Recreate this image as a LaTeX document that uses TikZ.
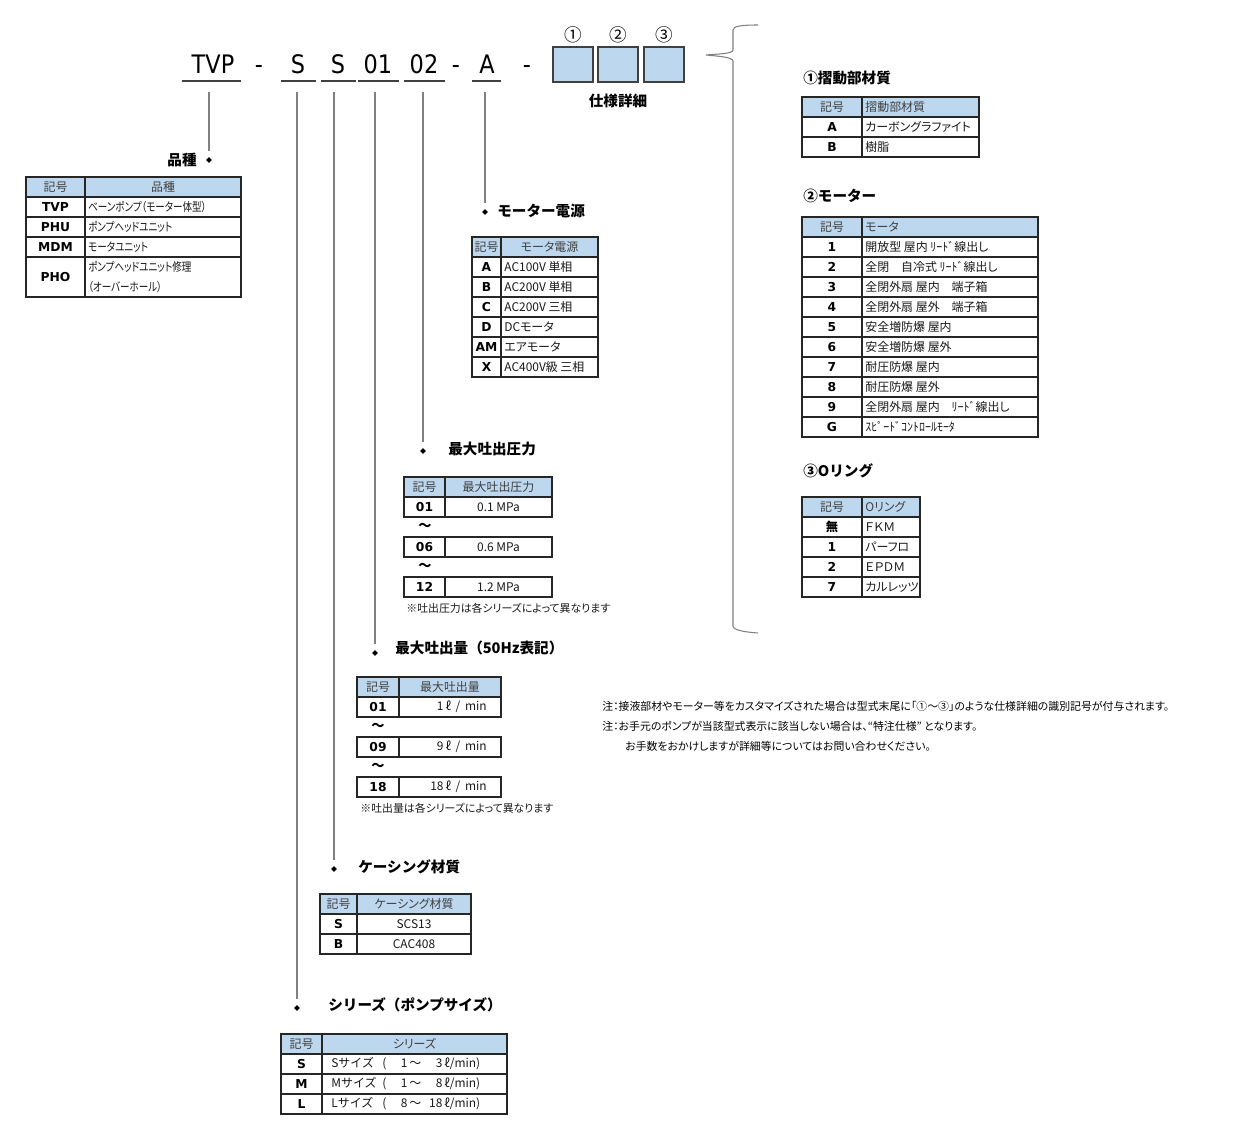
\documentclass[tikz,border=0pt]{standalone}
\usepackage{fontspec}
\setmainfont{Noto Sans CJK JP}
\newfontfamily\jpprop{Noto Sans CJK JP}[RawFeature=+palt]
\newfontfamily\latinfont{DejaVu Sans}
\usetikzlibrary{shapes.geometric}

\definecolor{hdrblue}{HTML}{BDD7EE}
\definecolor{tblline}{HTML}{262626}
\definecolor{hdrgray}{HTML}{404040}
\definecolor{leadgray}{HTML}{808080}
\definecolor{boxline}{HTML}{404040}

\newcommand\fcode{\latinfont\bfseries\fontsize{7}{8}\selectfont}
\newcommand\fdesc{\jpprop\fontsize{6.8}{8}\selectfont}
\newcommand\fwide{\normalfont\fontsize{6.8}{8}\selectfont}
\newcommand\fhead{\bfseries\fontsize{8.3}{10}\selectfont}
\newcommand\fnote{\jpprop\fontsize{6.2}{7}\selectfont}
\newcommand\ftop{\latinfont\fontsize{14.5}{16}\selectfont}
\newcommand\fcirc{\fontsize{10}{12}\selectfont}
\newcommand\jpbold{\jpprop\bfseries}

% header row: name, left, divider, right, top, title, anchor, x
\newcommand{\spechead}[8]{%
  \filldraw[hdrcell] (#2,#5) rectangle (#3,#5+20);
  \filldraw[hdrcell] (#3,#5) rectangle (#4,#5+20);
  \node[hdrtxt] (#1-k) at ({(#2+#3)/2},#5+10) {記号};
  \node[hdrtxt, anchor=#7] (#1-t) at (#8,#5+10) {#6};
}
% table row: name, left, divider, right, top, code, text, anchor, x
\newcommand{\specrow}[9]{%
  \draw[cellline] (#2,#5) rectangle (#3,#5+20);
  \draw[cellline] (#3,#5) rectangle (#4,#5+20);
  \node[codetxt] (#1-c) at ({(#2+#3)/2},#5+10) {#6};
  \node[desctxt, anchor=#8] (#1-d) at (#9,#5+10) {#7};
}
\newcommand{\sizerow}[3]{\fwide\makebox[29pt][l]{#1サイズ}(\makebox[12pt][r]{#2}\,～\makebox[12pt][r]{#3}\,ℓ/min)}

\begin{document}
\begin{tikzpicture}[x=0.02cm, y=-0.02cm,
  cellline/.style={draw=tblline, line width=0.9pt},
  hdrcell/.style={fill=hdrblue, draw=tblline, line width=0.9pt},
  codetxt/.style={font=\fcode, text=black, inner sep=0pt},
  desctxt/.style={font=\fdesc, text=black!90, inner sep=0pt},
  hdrtxt/.style={font=\fdesc, text=hdrgray, inner sep=0pt},
  sectitle/.style={font=\fhead, inner sep=0pt},
  notetxt/.style={font=\fnote, anchor=west, inner sep=0pt},
  topcode/.style={font=\ftop, anchor=base, inner sep=0pt, xscale=0.88, transform shape},
  uline/.style={draw=boxline, line width=0.8pt},
  specbox/.style={fill=hdrblue, draw=boxline, line width=0.9pt},
  lead/.style={draw=leadgray, line width=0.6pt, shorten >=3pt},
  dot/.style={diamond, fill=black, inner sep=0pt, minimum size=3.4pt},
  wave/.style={font=\bfseries\fontsize{7.5}{8}\selectfont, inner sep=0pt},
  narrow/.style={xscale=0.8, transform shape},
  brace/.style={draw=leadgray, line width=0.6pt},
]
  \path[use as bounding box, fill=white] (0,0) rectangle (1240,1136);

  % Model code
  \node[topcode] (c-tvp) at (213,73) {TVP};
  \node[topcode] (c-d1) at (259,73) {-};
  \node[topcode] (c-ser) at (298,73) {S};
  \node[topcode] (c-cas) at (338,73) {S};
  \node[topcode] (c-flw) at (378,73) {01};
  \node[topcode] (c-prs) at (424,73) {02};
  \node[topcode] (c-d2) at (456,73) {-};
  \node[topcode] (c-pow) at (487,73) {A};
  \node[topcode] (c-d3) at (527,73) {-};
  \foreach \a/\b in {182/241, 281/316, 321/356, 358/399, 404/445, 472/501}
    \draw[uline] (\a,81) -- (\b,81);

  % Option boxes
  \foreach \n/\a [count=\k] in {①/553, ②/598, ③/644} {
    \filldraw[specbox] (\a,47) rectangle (\a+40,82);
    \node[font=\fcirc, inner sep=0pt] (num\k) at (\a+20,35) {\n};
  }
  \node[sectitle] (spec) at (618,101) {仕様詳細};

  % Leads
  \coordinate (u-tvp) at (209,92);
  \coordinate (u-ser) at (297,92);
  \coordinate (u-cas) at (334,92);
  \coordinate (u-flw) at (375,92);
  \coordinate (u-prs) at (423,92);
  \coordinate (u-pow) at (485,92);
  \node[dot] (d-tvp) at (209,160) {};
  \node[dot] (d-pow) at (485,212) {};
  \node[dot] (d-prs) at (423,451) {};
  \node[dot] (d-flw) at (375,653) {};
  \node[dot] (d-cas) at (334,869) {};
  \node[dot] (d-ser) at (297,1008) {};
  \foreach \s in {tvp, pow, prs, flw, cas, ser}
    \draw[lead] (u-\s) -- (d-\s.north);

  % Titles
  \node[sectitle, anchor=east] (t-typ) at (197,160) {品種};
  \node[sectitle, anchor=west] (t-pow) at (497,211) {モーター電源};
  \node[sectitle, anchor=west] (t-prs) at (448,449) {最大吐出圧力};
  \node[sectitle, anchor=west] (t-flw) at (395,648) {最大吐出量（50Hz表記）};
  \node[sectitle, anchor=west] (t-cas) at (358,867) {ケーシング材質};
  \node[sectitle, anchor=west] (t-ser) at (328,1005) {シリーズ（ポンプサイズ）};
  \node[sectitle, anchor=west] (t-sld) at (803,78) {①摺動部材質};
  \node[sectitle, anchor=west] (t-mot) at (803,196) {②モーター};
  \node[sectitle, anchor=west] (t-orn) at (803,471) {③Oリング};

  % Product type
  \spechead{typ}{26}{85}{241}{177}{品種}{center}{163}
  \specrow{typ1}{26}{85}{241}{197}{TVP}{}{west}{88}
  \specrow{typ2}{26}{85}{241}{217}{PHU}{}{west}{88}
  \specrow{typ3}{26}{85}{241}{237}{MDM}{}{west}{88}
  \node[desctxt, narrow, anchor=west] (typ1-e) at (88,207) {ベーンポンプ（モーター体型）};
  \node[desctxt, narrow, anchor=west] (typ2-e) at (88,227) {ポンプヘッドユニット};
  \node[desctxt, narrow, anchor=west] (typ3-e) at (88,247) {モータユニット};
  \draw[cellline] (26,257) rectangle (85,297) (85,257) rectangle (241,297);
  \node[codetxt] (typ4-c) at (55.5,277) {PHO};
  \node[desctxt, narrow, anchor=west] (typ4-d) at (88,267) {ポンプヘッドユニット修理};
  \node[desctxt, narrow, anchor=west] (typ4-e) at (88,287) {（オーバーホール）};

  % Motor power
  \spechead{pow}{472}{501}{598}{237}{モータ電源}{center}{549.5}
  \foreach \cd/\ds [count=\i from 0] in {A/AC100V 単相, B/AC200V 単相, C/AC200V 三相,
      D/DCモータ, AM/エアモータ, X/AC400V級 三相}
    {\specrow{pow\i}{472}{501}{598}{257+20*\i}{\cd}{\ds}{west}{504}}

  % Max pressure
  \spechead{prs}{404}{445}{552}{477}{最大吐出圧力}{center}{498.5}
  \foreach \cd/\ds/\y in {01/0.1 MPa/497, 06/0.6 MPa/537, 12/1.2 MPa/577}
    {\specrow{prs\cd}{404}{445}{552}{\y}{\cd}{\ds}{center}{498.5}}
  \node[wave] (prs-w1) at (425,527) {～};
  \node[wave] (prs-w2) at (425,567) {～};
  \node[desctxt, font=\fnote, anchor=west] (prs-n) at (406,608) {※吐出圧力は各シリーズによって異なります};

  % Max flow
  \spechead{flw}{357}{399}{501}{677}{最大吐出量}{center}{450}
  \specrow{flw01}{357}{399}{501}{697}{01}{\fwide 1\,ℓ \,/\, min}{east}{487}
  \specrow{flw09}{357}{399}{501}{737}{09}{\fwide 9\,ℓ \,/\, min}{east}{487}
  \specrow{flw18}{357}{399}{501}{777}{18}{\fwide 18\,ℓ \,/\, min}{east}{487}
  \node[wave] (flw-w1) at (378,727) {～};
  \node[wave] (flw-w2) at (378,767) {～};
  \node[desctxt, font=\fnote, anchor=west] (flw-n) at (360,808) {※吐出量は各シリーズによって異なります};

  % Casing
  \spechead{cas}{320}{357}{471}{894}{ケーシング材質}{center}{414}
  \foreach \cd/\ds [count=\i from 0] in {S/SCS13, B/CAC408}
    {\specrow{cas\i}{320}{357}{471}{914+20*\i}{\cd}{\ds}{center}{414}}

  % Series
  \spechead{ser}{281}{322}{507}{1034}{シリーズ}{center}{414.5}
  \specrow{ser0}{281}{322}{507}{1054}{S}{\sizerow{S}{1}{3}}{west}{331}
  \specrow{ser1}{281}{322}{507}{1074}{M}{\sizerow{M}{1}{8}}{west}{331}
  \specrow{ser2}{281}{322}{507}{1094}{L}{\sizerow{L}{8}{18}}{west}{331}

  % (1) sliding parts
  \spechead{sld}{802}{862}{979}{97}{摺動部材質}{west}{865}
  \foreach \cd/\ds [count=\i from 0] in {A/カーボングラファイト, B/樹脂}
    {\specrow{sld\i}{802}{862}{979}{117+20*\i}{\cd}{\ds}{west}{865}}

  % (2) motor
  \spechead{mot}{802}{862}{1038}{217}{モータ}{west}{865}
  \foreach \cd/\ds [count=\i from 0] in {1/開放型 屋内 ﾘｰﾄﾞ線出し, 2/全閉　自冷式 ﾘｰﾄﾞ線出し,
      3/全閉外扇 屋内　端子箱, 4/全閉外扇 屋外　端子箱, 5/安全増防爆 屋内, 6/安全増防爆 屋外,
      7/耐圧防爆 屋内, 8/耐圧防爆 屋外, 9/全閉外扇 屋内　ﾘｰﾄﾞ線出し, G/ｽﾋﾟｰﾄﾞｺﾝﾄﾛｰﾙﾓｰﾀ}
    {\specrow{mot\i}{802}{862}{1038}{237+20*\i}{\cd}{\ds}{west}{865}}

  % (3) O-ring
  \spechead{orn}{802}{862}{920}{497}{Oリング}{west}{865}
  \specrow{orn0}{802}{862}{920}{517}{\jpbold 無}{ＦＫＭ}{west}{865}
  \specrow{orn1}{802}{862}{920}{537}{1}{パーフロ}{west}{865}
  \specrow{orn2}{802}{862}{920}{557}{2}{ＥＰＤＭ}{west}{865}
  \specrow{orn3}{802}{862}{920}{577}{7}{カルレッツ}{west}{865}

  % Brace
  \draw[brace] (758,25) .. controls (742,25) and (733,26) .. (733,30) -- (733,50)
    .. controls (733,54) and (716,54) .. (706,55)
    .. controls (716,56) and (733,57) .. (733,61) -- (733,626)
    .. controls (733,630) and (744,632) .. (758,633);

  % Notes
  \node[notetxt] (n1) at (602,706) {注：接液部材やモーター等をカスタマイズされた場合は型式末尾に「①～③」のような仕様詳細の識別記号が付与されます。};
  \node[notetxt] (n2) at (602,726) {注：お手元のポンプが当該型式表示に該当しない場合は、“特注仕様” となります。};
  \node[notetxt] (n3) at (625,746) {お手数をおかけしますが詳細等についてはお問い合わせください。};
\end{tikzpicture}
\end{document}
